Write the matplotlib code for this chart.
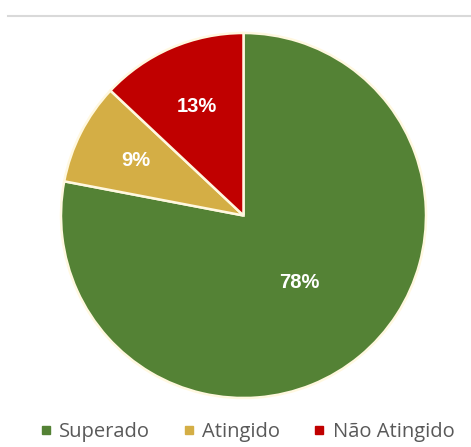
import matplotlib
matplotlib.use("Agg")
import matplotlib.pyplot as plt
from matplotlib.lines import Line2D
import numpy as np

categories = ["Superado", "Atingido", "Não Atingido"]
values = [78, 9, 13]
colors = ["#548235", "#D4AE45", "#C00000"]
label_dist = [0.48, 0.66, 0.65]

W, H = 471, 447
fig = plt.figure(figsize=(W / 100, H / 100), dpi=100)

# thin rule across the top
fig.add_artist(Line2D([8 / W, 1.0], [1 - 15.5 / H, 1 - 15.5 / H],
                      color="#D9D9D9", lw=1.5))

cx, cy, r = 243.5, 215.5, 182.5
ax = fig.add_axes([(cx - r) / W, 1 - (cy + r) / H, 2 * r / W, 2 * r / H])
wedges, _ = ax.pie(values, colors=colors, startangle=90, counterclock=False,
                   radius=1.0,
                   wedgeprops=dict(edgecolor="#FFF8E0", linewidth=1.8))
ax.set_xlim(-1, 1)
ax.set_ylim(-1, 1)
ax.set_aspect("equal")
ax.axis("off")

for w, v, d in zip(wedges, values, label_dist):
    mid = np.deg2rad((w.theta1 + w.theta2) / 2)
    ax.text(d * np.cos(mid), d * np.sin(mid), f"{v}%", ha="center",
            va="center", color="#FFFFFF", fontsize=14.5, fontweight="bold",
            family="Liberation Sans")

handles = [Line2D([], [], marker="s", linestyle="none", markersize=6.2,
                  markerfacecolor=c, markeredgecolor=c) for c in colors]
fig.legend(handles, categories, loc="center", ncol=3, frameon=False,
           bbox_to_anchor=(247.5 / W, 1 - 432 / H),
           prop=dict(family="Open Sans", size=14.5),
           labelcolor="#595959", handletextpad=0.4, columnspacing=1.7,
           handlelength=0.5)

fig.savefig("out.png", dpi=100)
